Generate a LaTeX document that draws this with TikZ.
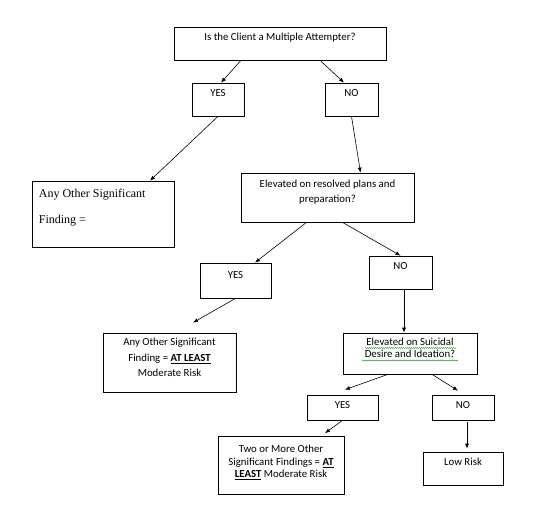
\documentclass[tikz,border=0pt]{standalone}
\usepackage{fontspec}
\setmainfont{Carlito}
\newfontfamily\serifface{Liberation Serif}
\usetikzlibrary{arrows.meta,decorations.pathmorphing}

\tikzset{
    box/.style = {draw, line width = 0.7pt, inner sep = 0pt},
    boxtext/.style = {anchor = north, align = center, inner sep = 0pt},
    link/.style = {draw, line width = 0.6pt, -{Latex[length = 5pt, width = 4pt]}},
    spell/.style = {draw, green!60!black, line width = 0.5pt,
        decoration = {snake, amplitude = 0.5pt, segment length = 2pt}, decorate},
}

\begin{document}
\begin{tikzpicture}[x = 1pt, y = -1pt, font = \fontsize{10.8}{15}\selectfont]
    \useasboundingbox (0, 0) rectangle (548, 516);

    % first question
    \node [box, minimum width = 212pt, minimum height = 33pt,
        label = {[boxtext, name = attempterText, yshift = -6pt]north:Is the Client a Multiple Attempter?}]
        (attempter) at (280, 43.5) {};
    \node [box, minimum width = 52pt, minimum height = 33pt,
        label = {[boxtext, name = yesOneText, yshift = -6.6pt]north:YES}]
        (yesOne) at (218, 99.5) {};
    \node [box, minimum width = 53pt, minimum height = 33pt,
        label = {[boxtext, name = noOneText, yshift = -6.6pt]north:NO}]
        (noOne) at (351.5, 99.5) {};

    % yes branch
    \node [box, minimum width = 142pt, minimum height = 66pt,
        label = {[anchor = north west, align = left, inner sep = 0pt, name = anyOneText,
            xshift = 7pt, yshift = -8pt, font = \serifface\fontsize{12}{26}\selectfont]
            north west:{Any Other Significant\\Finding =}}]
        (anyOne) at (103, 214) {};

    % no branch
    \node [box, minimum width = 173pt, minimum height = 49pt,
        label = {[boxtext, name = plansText, yshift = -7pt]north:{Elevated on resolved plans and\\preparation?}}]
        (plans) at (327.5, 197.5) {};
    \node [box, minimum width = 71pt, minimum height = 35pt,
        label = {[boxtext, name = yesTwoText, yshift = -8.5pt]north:YES}]
        (yesTwo) at (235.5, 280.5) {};
    \node [box, minimum width = 63pt, minimum height = 33pt,
        label = {[boxtext, name = noTwoText, yshift = -6.5pt]north:NO}]
        (noTwo) at (400.5, 272.5) {};
    \node [box, minimum width = 133pt, minimum height = 59pt,
        label = {[boxtext, name = anyTwoText, yshift = -5.5pt, font = \fontsize{10.8}{15.5}\selectfont]
            north:{Any Other Significant\\Finding = \underline{\textbf{AT LEAST}}\\Moderate Risk}}]
        (anyTwo) at (169.5, 362.5) {};

    % third question
    \node [box, minimum width = 134pt, minimum height = 41pt,
        label = {[boxtext, name = desireText, yshift = -5pt, font = \fontsize{10.8}{12.5}\selectfont]
            north:{Elevated on Suicidal\\Desire and Ideation?}}]
        (desire) at (410, 353.5) {};
    \node [box, minimum width = 71pt, minimum height = 25pt,
        label = {[boxtext, name = yesThreeText, yshift = -6.5pt]north:YES}]
        (yesThree) at (342.5, 407.5) {};
    \node [box, minimum width = 62pt, minimum height = 25pt,
        label = {[boxtext, name = noThreeText, yshift = -6.5pt]north:NO}]
        (noThree) at (463, 407.5) {};
    \node [box, minimum width = 126pt, minimum height = 58pt,
        label = {[boxtext, name = twoText, yshift = -9pt, font = \fontsize{10.8}{12.5}\selectfont]
            north:{Two or More Other\\Significant Findings = \underline{\textbf{AT}}\\\underline{\textbf{LEAST}} Moderate Risk}}]
        (two) at (281, 465.5) {};
    \node [box, minimum width = 80pt, minimum height = 33pt,
        label = {[boxtext, name = lowText, yshift = -6.5pt]north:Low Risk}]
        (low) at (463, 468.5) {};

    % spelling marks
    \draw [spell] ([xshift = -45pt, yshift = 5.5pt]desire.center) -- ([xshift = 46pt, yshift = 5.5pt]desire.center);
    \draw [spell] ([xshift = -48pt, yshift = -7pt]desire.center) -- ([xshift = 48pt, yshift = -7pt]desire.center);

    % arrows
    \path [link] ([xshift = -39pt]attempter.south) -- ([xshift = 3pt]yesOne.north);
    \path [link] ([xshift = 40pt]attempter.south) -- ([xshift = -7.5pt]noOne.north);
    \path [link] (yesOne.south) -- ([xshift = 47pt]anyOne.north);
    \path [link] (noOne.south) -- ([xshift = 33pt]plans.north);
    \path [link] ([xshift = -21pt]plans.south) -- ([xshift = 19.5pt]yesTwo.north);
    \path [link] ([xshift = 15pt]plans.south) -- (noTwo.north);
    \path [link] (yesTwo.south) -- ([xshift = 23.5pt, yshift = 10pt]anyTwo.north);
    \path [link] ([xshift = 3.5pt]noTwo.south) -- ([xshift = -6pt]desire.north);
    \path [link] ([xshift = -22pt]desire.south) -- ([xshift = 2.5pt, yshift = 5pt]yesThree.north);
    \path [link] ([xshift = 22pt]desire.south) -- ([xshift = -5pt, yshift = 4pt]noThree.north);
    \path [link] (yesThree.south) -- ([xshift = 44pt, yshift = 3pt]two.north);
    \path [link] ([xshift = 4pt, yshift = -2pt]noThree.south) -- ([xshift = 4pt, yshift = 3pt]low.north);
\end{tikzpicture}
\end{document}
